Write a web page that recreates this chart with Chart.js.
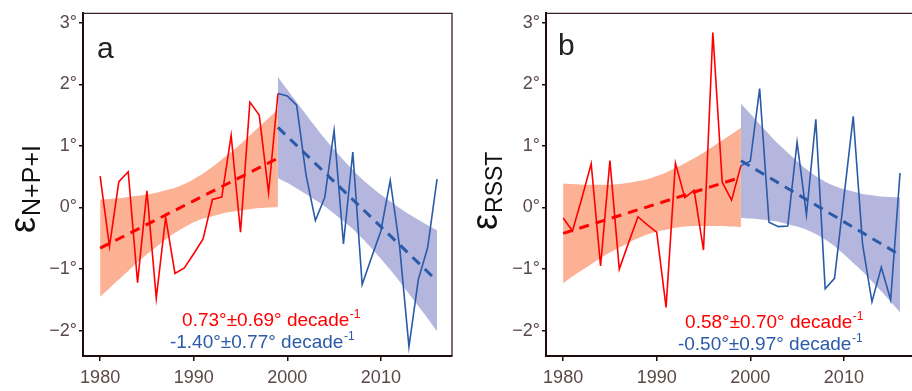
<!DOCTYPE html>
<html><head><meta charset="utf-8">
<script src="https://cdn.jsdelivr.net/npm/chart.js@4.4.1/dist/chart.umd.min.js"></script>
<style>
html,body{margin:0;padding:0;background:#fff;overflow:hidden;width:912px;height:391px;}
.wrap{position:absolute;top:0;width:470px;height:391px;}
#wa{left:0px} #wb{left:463px}
</style></head><body>
<div class="wrap" id="wa"><canvas id="ca" width="470" height="391"></canvas></div>
<div class="wrap" id="wb"><canvas id="cb" width="470" height="391"></canvas></div>
<script>
// ---- data ----
const yearsEarly = [1980,1981,1982,1983,1984,1985,1986,1987,1988,1989,1990,1991,1992,1993,1994,1995,1996,1997,1998,1999];
const yearsLate  = [1999,2000,2001,2002,2003,2004,2005,2006,2007,2008,2009,2010,2011,2012,2013,2014,2015,2016];

// panel a : eps N+P+I
const aEarly = [0.51,-0.63,0.42,0.58,-1.22,0.27,-1.47,-0.16,-1.07,-0.98,-0.75,-0.51,0.13,0.17,1.17,-0.40,1.71,1.50,0.24,1.85];
const aLate  = [1.85,1.81,1.66,0.53,-0.21,0.16,1.25,-0.59,0.90,-1.25,-0.81,-0.38,0.44,-0.63,-2.26,-1.17,-0.65,0.46];
const aEarlyTrend = [-0.66, 0.80];   // at 1980, 1999
const aLateTrend  = [1.30, -1.19];   // at 1999, 2016
const aEarlyUpper = [0.13,0.14,0.15,0.17,0.19,0.21,0.24,0.28,0.32,0.38,0.46,0.55,0.66,0.78,0.90,1.03,1.17,1.31,1.45,1.59];
const aEarlyLower = [-1.45,-1.31,-1.17,-1.03,-0.89,-0.76,-0.64,-0.52,-0.41,-0.32,-0.24,-0.18,-0.14,-0.10,-0.07,-0.05,-0.03,-0.01,0.00,0.01];
const aLateUpper  = [2.12,1.91,1.71,1.51,1.31,1.12,0.94,0.77,0.61,0.46,0.33,0.21,0.10,-0.01,-0.11,-0.20,-0.29,-0.37];
const aLateLower  = [0.48,0.40,0.31,0.22,0.12,0.02,-0.10,-0.22,-0.35,-0.50,-0.66,-0.83,-1.01,-1.20,-1.40,-1.60,-1.80,-2.01];
const aTextEarly = "0.73°±0.69° decade";
const aTextLate  = "-1.40°±0.77° decade";

// panel b : eps RSST
const bEarly = [-0.17,-0.38,0.15,0.71,-0.95,0.76,-1.00,-0.57,-0.15,-0.28,-0.40,-1.62,0.72,0.16,0.28,-0.69,2.84,0.41,0.12,0.68];
const bLate  = [0.68,0.75,1.93,-0.24,-0.31,-0.30,1.06,-0.12,1.43,-1.32,-1.15,0.16,1.48,-0.60,-1.53,-0.97,-1.50,0.56];
const bEarlyTrend = [-0.42, 0.49];
const bLateTrend  = [0.76, -0.77];
const bEarlyUpper = [0.39,0.38,0.37,0.37,0.37,0.37,0.38,0.40,0.43,0.46,0.51,0.57,0.64,0.72,0.80,0.89,0.99,1.09,1.19,1.30];
const bEarlyLower = [-1.23,-1.12,-1.02,-0.92,-0.82,-0.73,-0.65,-0.57,-0.50,-0.44,-0.39,-0.36,-0.33,-0.31,-0.30,-0.30,-0.30,-0.30,-0.31,-0.32];
const bLateUpper  = [1.69,1.52,1.35,1.19,1.03,0.89,0.75,0.62,0.51,0.42,0.35,0.30,0.26,0.22,0.20,0.18,0.17,0.16];
const bLateLower  = [-0.17,-0.18,-0.19,-0.21,-0.23,-0.27,-0.31,-0.36,-0.43,-0.52,-0.63,-0.76,-0.90,-1.04,-1.20,-1.36,-1.53,-1.70];
const bTextEarly = "0.58°±0.70° decade";
const bTextLate  = "-0.50°±0.97° decade";

const yTickVals = [-2,-1,0,1,2,3];
const yTickText = ['−2°','−1°','0°','1°','2°','3°'];
const xTickVals = [1980,1990,2000,2010];

// ---- style ----
const FONT = "'Liberation Sans', Arial, sans-serif";
const RED = '#ff0000', BLUE = '#2a5aa8';
const RED_BAND = 'rgba(252,172,142,0.95)', BLUE_BAND = 'rgba(176,178,220,0.95)';
const TICK_COLOR = '#5b4848', AXIS_COLOR = '#1f0c0c';

function pts(xs, ys){ return xs.map((x,i)=>({x:x, y:ys[i]})); }

function deco(o){
  return {
    id:'deco'+o.letter,
    afterDraw(chart){
      const ctx = chart.ctx, ca = chart.chartArea;
      ctx.save();
      // frame top/right
      ctx.strokeStyle = '#3a2222'; ctx.lineWidth = 1.3;
      ctx.beginPath();
      ctx.moveTo(ca.left, ca.top+0.5); ctx.lineTo(ca.right, ca.top+0.5);
      ctx.lineTo(ca.right, ca.bottom);
      ctx.stroke();
      // panel letter
      ctx.fillStyle = '#222'; ctx.font = '30px '+FONT; ctx.textBaseline='alphabetic'; ctx.textAlign='left';
      ctx.fillText(o.letter, o.lx, o.ly);
      // y-axis title epsilon with subscript
      ctx.save();
      ctx.translate(o.ex, o.ey); ctx.rotate(-Math.PI/2);
      ctx.font = '36px '+FONT; ctx.fillStyle='#111';
      ctx.fillText('ε', 0, 0);
      const w = ctx.measureText('ε').width;
      ctx.font = o.subSize+'px '+FONT;
      ctx.fillText(o.sub, w+1, 5);
      ctx.restore();
      // annotations
      o.ann.forEach(a=>{
        ctx.font = '19px '+FONT;
        const w1 = ctx.measureText(a.t).width;
        ctx.font = '12px '+FONT;
        const w2 = ctx.measureText('-1').width;
        const x0 = a.cx - (w1+w2)/2;
        ctx.fillStyle = a.c;
        ctx.font = '19px '+FONT; ctx.textAlign='left';
        ctx.fillText(a.t, x0, a.y);
        ctx.font = '12px '+FONT;
        ctx.fillText('-1', x0+w1+0.5, a.y-8);
      });
      ctx.restore();
    }
  };
}

function makePanel(id, d, o){
  const datasets = [
    {data:pts(yearsLate,d.late), borderColor:BLUE, borderWidth:1.6, pointRadius:0, fill:false, order:0, tension:0},
    {data:pts(yearsEarly,d.early), borderColor:RED, borderWidth:1.6, pointRadius:0, fill:false, order:0, tension:0},
    {data:pts([1999,2016],d.lateTrend), borderColor:BLUE, borderWidth:3, borderDash:[10,7], pointRadius:0, fill:false, order:1},
    {data:pts([1980,1999],d.earlyTrend), borderColor:RED, borderWidth:3, borderDash:[10,7], pointRadius:0, fill:false, order:1},
    {data:pts(yearsLate,d.lateUp), borderWidth:0, borderColor:'rgba(0,0,0,0)', backgroundColor:BLUE_BAND, pointRadius:0, fill:'+1', order:2, tension:0.3},
    {data:pts(yearsLate,d.lateLo), borderWidth:0, borderColor:'rgba(0,0,0,0)', pointRadius:0, fill:false, order:2, tension:0.3},
    {data:pts(yearsEarly,d.earlyUp), borderWidth:0, borderColor:'rgba(0,0,0,0)', backgroundColor:RED_BAND, pointRadius:0, fill:'+1', order:3, tension:0.3},
    {data:pts(yearsEarly,d.earlyLo), borderWidth:0, borderColor:'rgba(0,0,0,0)', pointRadius:0, fill:false, order:3, tension:0.3}
  ];
  return new Chart(document.getElementById(id), {
    type:'line',
    data:{datasets},
    options:{
      responsive:false, animation:false, devicePixelRatio:1,
      layout:{padding:{top:11,right:18,left:0,bottom:0}},
      plugins:{legend:{display:false}, tooltip:{enabled:false}},
      scales:{
        x:{type:'linear', min:1978.17, max:2017.6,
           afterBuildTicks:s=>{s.ticks = xTickVals.map(v=>({value:v}));},
           afterFit:s=>{s.height=35;},
           ticks:{color:TICK_COLOR, font:{family:FONT,size:18}, padding:6, maxRotation:0, autoSkip:false, callback:v=>String(v)},
           grid:{drawOnChartArea:false, drawTicks:true, tickLength:5, color:AXIS_COLOR, lineWidth:1.5},
           border:{display:true, color:AXIS_COLOR, width:2}},
        y:{type:'linear', min:-2.41, max:3.16,
           afterBuildTicks:s=>{s.ticks = yTickVals.map(v=>({value:v}));},
           afterFit:s=>{s.width=83;},
           ticks:{color:TICK_COLOR, font:{family:FONT,size:18}, padding:2, autoSkip:false, callback:v=>yTickText[yTickVals.indexOf(v)]},
           grid:{drawOnChartArea:false, drawTicks:true, tickLength:4, color:AXIS_COLOR, lineWidth:1.5},
           border:{display:true, color:AXIS_COLOR, width:2}}
      }
    },
    plugins:[deco(o)]
  });
}

makePanel('ca',
  {early:aEarly, late:aLate, earlyTrend:aEarlyTrend, lateTrend:aLateTrend, earlyUp:aEarlyUpper, earlyLo:aEarlyLower, lateUp:aLateUpper, lateLo:aLateLower},
  {letter:'a', lx:97, ly:58, ex:35, ey:233, sub:'N+P+I', subSize:25,
   ann:[{t:aTextEarly, c:RED, cx:271, y:326},{t:aTextLate, c:BLUE, cx:262, y:348}]});
makePanel('cb',
  {early:bEarly, late:bLate, earlyTrend:bEarlyTrend, lateTrend:bLateTrend, earlyUp:bEarlyUpper, earlyLo:bEarlyLower, lateUp:bLateUpper, lateLo:bLateLower},
  {letter:'b', lx:95, ly:55, ex:34, ey:230, sub:'RSST', subSize:23,
   ann:[{t:bTextEarly, c:RED, cx:311, y:328},{t:bTextLate, c:BLUE, cx:307, y:350}]});
</script>
</body></html>
